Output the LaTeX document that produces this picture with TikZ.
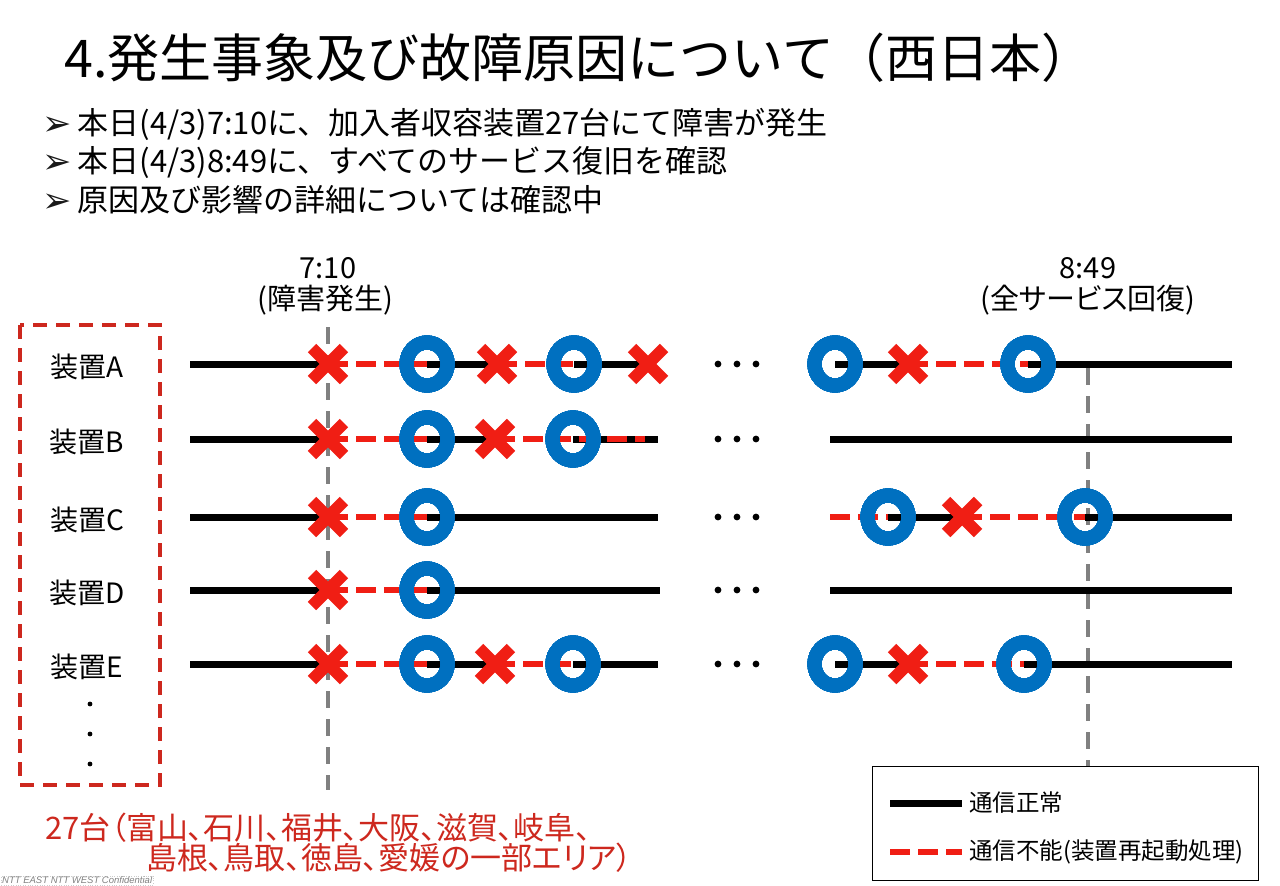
\documentclass[tikz,border=0pt]{standalone}
\usepackage{fontspec}
\setmainfont{Noto Sans CJK JP}[RawFeature=+palt]
\newfontfamily\pieno{Noto Sans CJK JP}
\newfontfamily\simboli{DejaVu Sans}
\newfontfamily\piede{Liberation Sans}
\newcommand\corpo[1]{\fontsize{#1pt}{#1pt}\selectfont}

\definecolor{bluri}{RGB}{0,112,192}
\definecolor{rossoX}{RGB}{240,30,20}
\definecolor{rossoscuro}{RGB}{205,40,30}
\definecolor{grigio}{RGB}{128,128,128}

\begin{document}
\begin{tikzpicture}[x=1pt, y=-1pt]
% Stili per le linee di stato e i simboli
\tikzset{normale/.style={line width=7pt, black},
  interrotto/.style={line width=6pt, rossoX, dash pattern=on 20pt off 8pt},
  anello/.style={line width=14pt, bluri},
  croce/.style={line width=12pt, rossoX},
  tempo/.style={line width=3.5pt, grigio, dash pattern=on 17pt off 11pt},
  testo/.style={inner sep=0pt, font=\corpo{31}},
  punto/.style={testo, anchor=west, font=\pieno\corpo{31}},
  etichetta/.style={inner sep=0pt, font=\corpo{28}}}
\newcommand\croce[1]{\draw[croce] (#1) ++(-16,-16) -- ++(32,32) ++(-32,0) -- ++(32,-32);}
\newcommand\freccina{\raisebox{-1pt}{\simboli\corpo{35}\textcolor{black!90}{➢}}\hspace{6pt}}

\useasboundingbox (0,0) rectangle (1280,886);
\clip (0,0) rectangle (1280,886);

% --- TITOLO E PUNTI ---
\node[testo, anchor=west, font=\pieno\corpo{52}] (titolo) at (64,58) {4.発生事象及び故障原因について（西日本）};
\node[punto] (punto1) at (42,124) {\freccina 本日(4/3)7:10に、加入者収容装置27台にて障害が発生};
\node[punto] (punto2) at (42,162) {\freccina 本日(4/3)8:49に、すべてのサービス復旧を確認};
\node[punto] (punto3) at (42,200) {\freccina 原因及び影響の詳細については確認中};

% --- ISTANTI ---
\node[testo, font=\corpo{29}] (t710) at (328,268) {7:10};
\node[testo, font=\corpo{29}] (t710b) at (325,300) {(障害発生)};
\node[testo, font=\corpo{29}] (t849) at (1088,268) {8:49};
\node[testo, font=\corpo{29}] (t849b) at (1088,300) {(全サービス回復)};

% Legenda
\node[draw, line width=1.2pt, minimum width=386pt, minimum height=114pt, anchor=north west] (legenda) at (872,766) {};
\coordinate (leg1) at (890,803);
\coordinate (leg2) at (890,852);
\draw[normale] (leg1) -- ++(72,0) coordinate (leg1b);
\draw[interrotto] (leg2) -- ++(72,0) coordinate (leg2b);
\node[testo, anchor=west, font=\corpo{23.5}] (normaletxt) at ([xshift=7pt]leg1b) {通信正常};
\node[testo, anchor=west, font=\corpo{23.5}] (guastotxt) at ([xshift=7pt]leg2b) {通信不能(装置再起動処理)};

% Tratteggi verticali degli istanti
\coordinate (t1su) at (328,327);
\coordinate (t1giu) at (328,790);
\coordinate (t2su) at (1088,368);
\draw[tempo] (t1su) -- (t1giu);
\draw[tempo] (t2su) -- (legenda.north -| t2su);

% --- RIQUADRO DEI DISPOSITIVI ---
\draw[rossoscuro, line width=4pt, dash pattern=on 14pt off 9pt] (20,325) rectangle (160,785);
\foreach \py in {704,734,764}
  \fill (90,\py) circle (2.4pt);

% Righe: lettera/ordinata
\foreach \riga/\quota in {A/364, B/439, C/517, D/590, E/664} {
  \coordinate (\riga-ini) at (190,\quota);
  \coordinate (\riga-x1) at (328,\quota);
  \coordinate (\riga-o1) at (427,\quota);
  \coordinate (\riga-fin) at (658,\quota);
  \coordinate (\riga-dx) at (1232,\quota);
  \node[etichetta] (lab\riga) at (87,{\quota+3}) {装置\riga};
  \foreach \px in {718,737,756}
    \fill (\px,\quota) circle (3.4pt);
}
\coordinate (A-x2) at (497,364);
\coordinate (A-o2) at (574,364);
\coordinate (A-x3) at (648,364);
\coordinate (A-o3) at (835,364);
\coordinate (A-x4) at (908,364);
\coordinate (A-o4) at (1028,364);
\coordinate (B-x2) at (495,439);
\coordinate (B-o2) at (573,439);
\coordinate (B-r) at (645,439);
\coordinate (B-sx) at (830,439);
\coordinate (C-sx) at (830,517);
\coordinate (C-o3) at (888,517);
\coordinate (C-x4) at (962,517);
\coordinate (C-o4) at (1085,517);
\coordinate (D-sx) at (830,590);
\coordinate (E-x2) at (495,664);
\coordinate (E-o2) at (573,664);
\coordinate (E-o3) at (835,664);
\coordinate (E-x4) at (908,664);
\coordinate (E-o4) at (1024,664);

% Comunicazione normale
\draw[normale] (A-ini) -- (A-x1) (A-o1) -- (A-x2) (A-o2) -- (A-x3) (A-o3) -- (A-x4) (A-o4) -- (A-dx);
\draw[normale] (B-ini) -- (B-x1) (B-o1) -- (B-x2) (B-o2) -- (B-fin) (B-sx) -- (B-dx);
\draw[normale] (C-ini) -- (C-x1) (C-o1) -- (C-fin) (C-o3) -- (C-x4) (C-o4) -- (C-dx);
\draw[normale] (D-ini) -- (D-x1) (D-o1) -- ([xshift=2pt]D-fin) (D-sx) -- (D-dx);
\draw[normale] (E-ini) -- (E-x1) (E-o1) -- (E-x2) (E-o2) -- (E-fin) (E-o3) -- (E-x4) (E-o4) -- (E-dx);

% Comunicazione interrotta
\draw[interrotto] (A-x1) -- (A-o1) (A-x2) -- (A-o2) (A-x4) -- (A-o4);
\draw[interrotto] (B-x1) -- (B-o1) (B-x2) -- (B-r);
\draw[interrotto] (C-x1) -- (C-o1) (C-sx) -- (C-o3) (C-x4) -- (C-o4);
\draw[interrotto] (D-x1) -- (D-o1);
\draw[interrotto] (E-x1) -- (E-o1) (E-x2) -- (E-o2) (E-x4) -- (E-o4);

% Guasti e ripristini
\foreach \c in {A-x1,A-x2,A-x3,A-x4,B-x1,B-x2,C-x1,C-x4,D-x1,E-x1,E-x2,E-x4}
  \croce{\c}
\foreach \c in {A-o1,A-o2,A-o3,A-o4,B-o1,B-o2,C-o1,C-o3,C-o4,D-o1,E-o1,E-o2,E-o3,E-o4}
  \draw[anello] (\c) ellipse [x radius=20.5pt, y radius=21.5pt];

% --- AREE COINVOLTE ---
\node[testo, anchor=west, text=rossoscuro] (aree1) at (45,828) {27台（富山、石川、福井、大阪、滋賀、岐阜、};
\node[testo, anchor=west, text=rossoscuro] (aree2) at (146,858) {島根、鳥取、徳島、愛媛の一部エリア）};

\node[anchor=south west, draw=gray!40, dotted, inner sep=1pt, text=gray, font=\piede\itshape\corpo{9.5}] (riservato) at (1,885) {NTT EAST NTT WEST Confidential};
\end{tikzpicture}
\end{document}
